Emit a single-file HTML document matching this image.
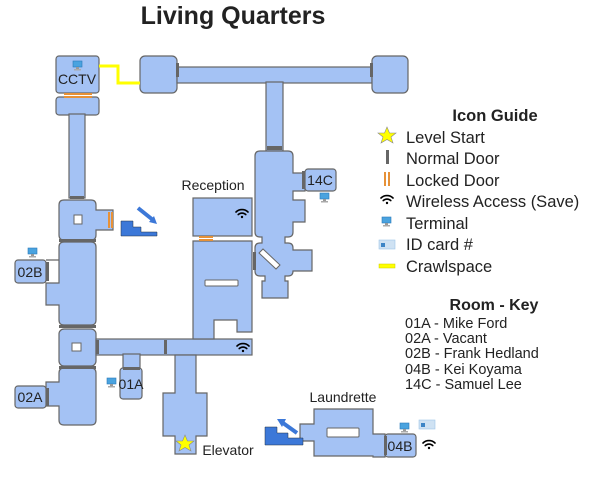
<!DOCTYPE html>
<html><head><style>
body{margin:0;background:#fff}
svg{display:block}
text{font-family:"Liberation Sans",sans-serif;fill:#222}
</style></head><body>
<svg width="600" height="481" viewBox="0 0 600 481">
<defs>
<g id="term"><rect x="0" y="0" width="9" height="6" fill="#4aa3df" stroke="#2b7bb9" stroke-width=".6"/><rect x="3" y="6" width="3" height="2" fill="#999"/><rect x="1" y="8" width="7" height="1.5" fill="#aaa"/></g>
<g id="wifi" fill="none" stroke="#000" stroke-width="1.6" stroke-linecap="round"><path d="M-6,-2 A8.5,8.5 0 0 1 6,-2"/><path d="M-3.8,0.6 A5.4,5.4 0 0 1 3.8,0.6"/><circle cx="0" cy="3" r="1.2" fill="#000" stroke="none"/></g>
</defs>
<text x="233" y="24" font-size="25" font-weight="bold" text-anchor="middle">Living Quarters</text>
<g fill="#a4c2f4" stroke="#666" stroke-width="1.2">
<rect x="56" y="56" width="43" height="37" rx="3"/>
<rect x="56" y="97" width="43" height="18" rx="3"/>
<rect x="69" y="114" width="16" height="84"/>
<path d="M64,200 H91 Q96,200 96,205 V210 H113 V230 H96 V235 Q96,240 91,240 H64 Q59,240 59,235 V205 Q59,200 64,200 Z"/>
<path d="M64,242 H91 Q96,242 96,247 V320 Q96,325 91,325 H64 Q59,325 59,320 V305 H46 V283 H59 V260 H46 V260 L59,260 V247 Q59,242 64,242 Z"/>
<rect x="15" y="260" width="31" height="23" rx="3"/>
<rect x="59" y="329" width="37" height="37" rx="5"/>
<path d="M64,368 H91 Q96,368 96,373 V420 Q96,425 91,425 H64 Q59,425 59,420 V406 H46 V382 H59 V373 Q59,368 64,368 Z"/>
<rect x="15" y="386" width="31" height="22" rx="3"/>
<rect x="96" y="339" width="156" height="16"/>
<rect x="123" y="354" width="17" height="14"/>
<rect x="120" y="368" width="22" height="31" rx="3"/>
<path d="M175,355 H196 V393 H207 V436 H196 V454 H175 V436 H163 V393 H175 Z"/>
<rect x="193" y="198" width="59" height="38"/>
<path d="M193,241 H252 V332 H237 V320 H214 V339 H193 Z"/>
<rect x="140" y="56" width="37" height="37" rx="5"/>
<rect x="177" y="67" width="195" height="16"/>
<rect x="372" y="56" width="36" height="37" rx="5"/>
<rect x="266" y="82" width="17" height="69"/>
<path d="M260,151 H288 Q293,151 293,156 V173 H305 V191 H293 V200 H305 V222 H293 V232 Q293,237 288,237 H285 V243 H288 Q293,243 293,248 V250 H312 V271 H293 Q293,276 288,276 H285 V281 H288 V298 H262 V281 H265 V276 H260 Q255,276 255,271 V248 Q255,243 260,243 H262 V237 H260 Q255,237 255,232 V156 Q255,151 260,151 Z"/>
<rect x="305" y="169" width="31" height="22" rx="3"/>
<path d="M314,409 H373 V434 H385 V457 H373 V456 H314 V441 H300 V424 H314 Z"/>
<rect x="385" y="434" width="31" height="23" rx="3"/>
</g>
<g fill="#fff" stroke="#666" stroke-width="1">
<rect x="74" y="215" width="8" height="9"/>
<rect x="72" y="343" width="9" height="8"/>
<rect x="205" y="280" width="33" height="6" rx="1"/>
<rect x="327" y="428" width="32" height="9" rx="1"/>
<path d="M259,253 L263,249 L280,265 L276,269 Z"/>
</g>
<g fill="#666">
<rect x="176" y="63" width="3" height="14"/>
<rect x="370" y="63" width="3" height="14"/>
<rect x="267" y="146" width="15" height="4"/>
<rect x="70" y="196" width="14" height="3"/>
<rect x="59" y="239" width="37" height="3"/>
<rect x="46" y="262" width="3" height="19"/>
<rect x="59" y="325" width="37" height="3"/>
<rect x="59" y="366" width="37" height="3"/>
<rect x="46" y="388" width="3" height="18"/>
<rect x="96" y="340" width="3" height="14"/>
<rect x="164" y="340" width="3" height="14"/>
<rect x="123" y="367" width="17" height="3"/>
<rect x="302" y="171" width="3" height="18"/>
<rect x="253" y="252" width="3" height="18"/>
<rect x="384" y="436" width="3" height="19"/>
</g>
<g fill="#e69138">
<rect x="64" y="93" width="28" height="2"/><rect x="64" y="96" width="28" height="2"/>
<rect x="108" y="212" width="2" height="16"/><rect x="111" y="212" width="2" height="16"/>
<rect x="199" y="236" width="14" height="2"/><rect x="199" y="239" width="14" height="2"/>
</g>
<polyline points="99,66 118,66 118,83 140,83" fill="none" stroke="#ff0" stroke-width="3"/>
<path d="M121,221 H133 V227 H141 V232 H157 V236 H121 Z" fill="#3c78d8" stroke="#234" stroke-width=".5"/>
<path d="M138,208 L153,220" stroke="#3c78d8" stroke-width="4"/><path d="M149,222 L157,224 L154,216 Z" fill="#3c78d8"/>
<path d="M265,427 H277 V433 H288 V438 H303 V445 H265 Z" fill="#3c78d8" stroke="#234" stroke-width=".5"/>
<path d="M283,423 L297,433" stroke="#3c78d8" stroke-width="4"/><path d="M277,419 L286,419 L282,427 Z" fill="#3c78d8"/>
<use href="#term" x="73" y="61"/>
<use href="#term" x="28" y="248"/>
<use href="#term" x="107" y="378"/>
<use href="#term" x="320" y="193"/>
<use href="#term" x="400" y="423"/>
<rect x="419" y="420" width="16" height="9" fill="#cfe2f3" stroke="#9fc5e8" stroke-width=".6"/><rect x="421" y="423" width="4" height="4" fill="#3d85c6"/>
<use href="#wifi" x="242" y="214"/>
<use href="#wifi" x="243" y="348"/>
<use href="#wifi" x="429" y="445"/>
<polygon points="185,435 187.5,441 194,441 189,445 191,451 185,447.5 179,451 181,445 176,441 182.5,441" fill="#ff0" stroke="#888" stroke-width=".6"/>
<g font-size="14">
<text x="77" y="84" text-anchor="middle">CCTV</text>
<text x="30" y="277" text-anchor="middle">02B</text>
<text x="30" y="402" text-anchor="middle">02A</text>
<text x="131" y="389" text-anchor="middle">01A</text>
<text x="320" y="185" text-anchor="middle">14C</text>
<text x="400" y="451" text-anchor="middle">04B</text>
<text x="213" y="190" text-anchor="middle">Reception</text>
<text x="228" y="455" text-anchor="middle">Elevator</text>
<text x="343" y="402" text-anchor="middle">Laundrette</text>
</g>
<text x="495" y="121" font-size="16.5" font-weight="bold" text-anchor="middle">Icon Guide</text>
<g font-size="16.5">
<text x="406" y="143">Level Start</text>
<text x="406" y="164">Normal Door</text>
<text x="406" y="186">Locked Door</text>
<text x="406" y="207">Wireless Access (Save)</text>
<text x="406" y="229">Terminal</text>
<text x="406" y="250">ID card #</text>
<text x="406" y="272">Crawlspace</text>
</g>
<polygon points="387,127 389.5,133 396,133 391,137 393,143 387,139.5 381,143 383,137 378,133 384.5,133" fill="#ff0" stroke="#888" stroke-width=".6"/>
<rect x="386" y="150" width="3" height="14" fill="#666"/>
<rect x="384" y="172" width="2" height="14" fill="#e69138"/><rect x="388" y="172" width="2" height="14" fill="#e69138"/>
<use href="#wifi" x="387" y="200"/>
<use href="#term" x="382" y="217"/>
<rect x="379" y="240" width="16" height="9" fill="#cfe2f3" stroke="#9fc5e8" stroke-width=".6"/><rect x="381" y="243" width="4" height="4" fill="#3d85c6"/>
<rect x="379" y="264" width="16" height="4" fill="#ff0" stroke="#cc0" stroke-width=".5"/>
<text x="494" y="310" font-size="16" font-weight="bold" text-anchor="middle">Room - Key</text>
<g font-size="14.5">
<text x="405" y="328">01A - Mike Ford</text>
<text x="405" y="343">02A - Vacant</text>
<text x="405" y="358">02B - Frank Hedland</text>
<text x="405" y="374">04B - Kei Koyama</text>
<text x="405" y="389">14C - Samuel Lee</text>
</g>
</svg>
</body></html>
